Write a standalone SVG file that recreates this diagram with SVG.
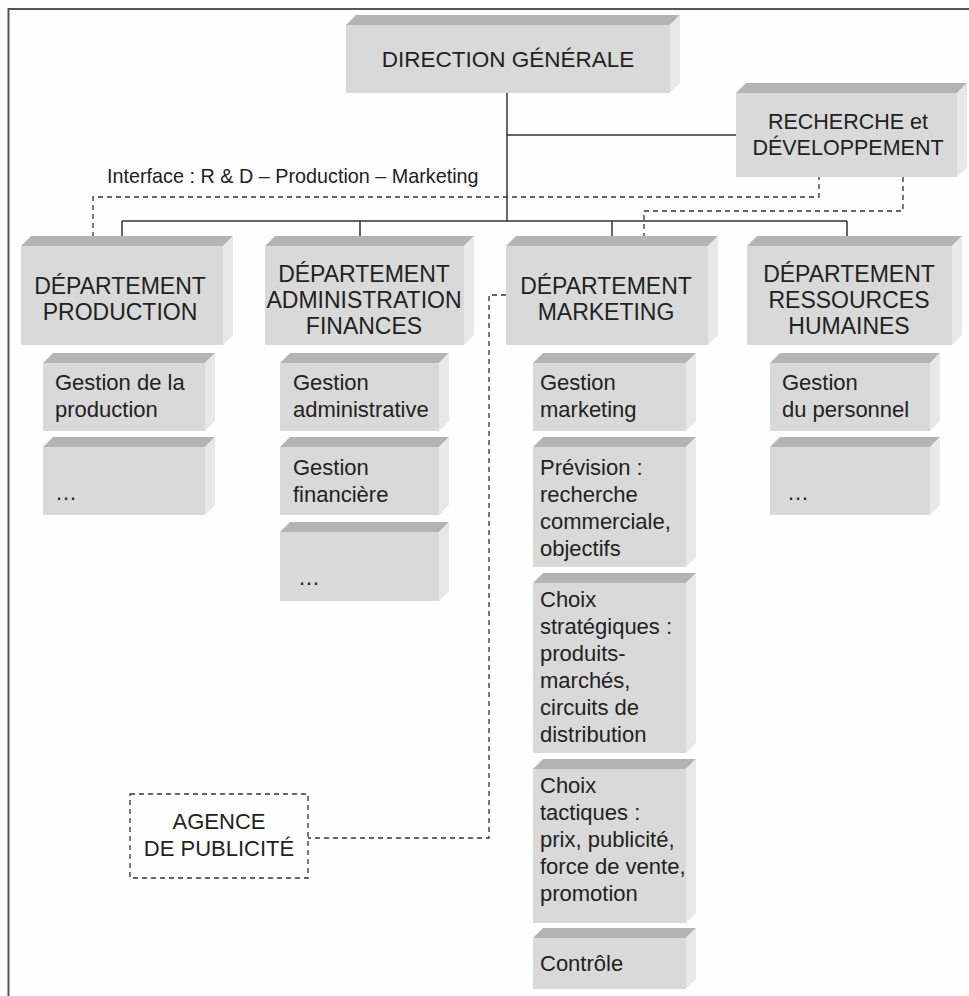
<svg xmlns="http://www.w3.org/2000/svg" width="969" height="996" viewBox="0 0 969 996">
<style>
.front{fill:#d9d9d9}
.top{fill:#b4b4b4}
.side{fill:#e8e8e8}
text{font-family:"Liberation Sans",Arial,Helvetica,sans-serif;fill:#222}
.big{font-size:23px;text-anchor:middle}
.sub{font-size:22px}
.solid{stroke:#333;stroke-width:1.5;fill:none}
.dash{stroke:#333;stroke-width:1.3;stroke-dasharray:5 4;fill:none}
.frame{stroke:#555;stroke-width:2;fill:none}
</style>
<rect width="969" height="996" fill="#fefefe"/>
<path class="frame" d="M8.5,996 V9 H969"/>

<g id="connectors">
<path class="solid" d="M507,93 V221"/>
<path class="solid" d="M507,135 H736"/>
<path class="solid" d="M122,221 H847"/>
<path class="solid" d="M122,221 V246 M360,221 V246 M612,221 V246 M847,221 V246"/>
<path class="dash" d="M93,246 V197 H819 V177"/>
<path class="dash" d="M903,177 V211 H644 V246"/>
<path class="dash" d="M506,295 H489 V838 H308"/>
</g>

<g id="interface-label">
<text x="107" y="183" style="font-size:19.8px">Interface : R &amp; D – Production – Marketing</text>
</g>

<g id="direction">
<polygon class="top" points="346,25 356,15 680,15 670,25"/>
<polygon class="side" points="670,25 680,15 680,83 670,93"/>
<rect class="front" x="346" y="25" width="324" height="68"/>
<text x="508" y="67" style="font-size:22.5px;text-anchor:middle">DIRECTION GÉNÉRALE</text>
</g>

<g id="rd">
<polygon class="top" points="736,93 746,83 967,83 957,93"/>
<polygon class="side" points="957,93 967,83 967,167 957,177"/>
<rect class="front" x="736" y="93" width="221" height="84"/>
<text class="big" style="font-size:21.5px"><tspan x="848" y="129">RECHERCHE et</tspan><tspan x="848" y="155">DÉVELOPPEMENT</tspan></text>
</g>

<g id="dep-production">
<polygon class="top" points="21,246 31,236 233,236 223,246"/>
<polygon class="side" points="223,246 233,236 233,335 223,345"/>
<rect class="front" x="21" y="246" width="202" height="99"/>
<text class="big"><tspan x="120" y="294">DÉPARTEMENT</tspan><tspan x="120" y="320">PRODUCTION</tspan></text>
</g>

<g id="dep-admin">
<polygon class="top" points="265,246 275,236 474,236 464,246"/>
<polygon class="side" points="464,246 474,236 474,335 464,345"/>
<rect class="front" x="265" y="246" width="199" height="99"/>
<text class="big"><tspan x="364" y="282">DÉPARTEMENT</tspan><tspan x="364" y="308">ADMINISTRATION</tspan><tspan x="364" y="334">FINANCES</tspan></text>
</g>

<g id="dep-marketing">
<polygon class="top" points="506,246 516,236 718,236 708,246"/>
<polygon class="side" points="708,246 718,236 718,335 708,345"/>
<rect class="front" x="506" y="246" width="202" height="99"/>
<text class="big"><tspan x="606" y="294">DÉPARTEMENT</tspan><tspan x="606" y="320">MARKETING</tspan></text>
</g>

<g id="dep-rh">
<polygon class="top" points="747,246 757,236 962,236 952,246"/>
<polygon class="side" points="952,246 962,236 962,335 952,345"/>
<rect class="front" x="747" y="246" width="205" height="99"/>
<text class="big"><tspan x="849" y="282">DÉPARTEMENT</tspan><tspan x="849" y="308">RESSOURCES</tspan><tspan x="849" y="334">HUMAINES</tspan></text>
</g>

<!-- Production subs -->
<g id="prod-1">
<polygon class="top" points="43,363 53,353 215,353 205,363"/>
<polygon class="side" points="205,363 215,353 215,421 205,431"/>
<rect class="front" x="43" y="363" width="162" height="68"/>
<text class="sub" x="55" y="390">Gestion de la</text>
<text class="sub" x="55" y="417">production</text>
</g>
<g id="prod-2">
<polygon class="top" points="43,447 53,437 215,437 205,447"/>
<polygon class="side" points="205,447 215,437 215,505 205,515"/>
<rect class="front" x="43" y="447" width="162" height="68"/>
<text class="sub" x="55" y="500">…</text>
</g>

<!-- Admin subs -->
<g id="admin-1">
<polygon class="top" points="280,363 290,353 449,353 439,363"/>
<polygon class="side" points="439,363 449,353 449,421 439,431"/>
<rect class="front" x="280" y="363" width="159" height="68"/>
<text class="sub" x="293" y="390">Gestion</text>
<text class="sub" x="293" y="417">administrative</text>
</g>
<g id="admin-2">
<polygon class="top" points="280,447 290,437 449,437 439,447"/>
<polygon class="side" points="439,447 449,437 449,505 439,515"/>
<rect class="front" x="280" y="447" width="159" height="68"/>
<text class="sub" x="293" y="475">Gestion</text>
<text class="sub" x="293" y="502">financière</text>
</g>
<g id="admin-3">
<polygon class="top" points="280,532 290,522 449,522 439,532"/>
<polygon class="side" points="439,532 449,522 449,591 439,601"/>
<rect class="front" x="280" y="532" width="159" height="69"/>
<text class="sub" x="298" y="585">…</text>
</g>

<!-- Marketing subs -->
<g id="mkt-1">
<polygon class="top" points="533,363 543,353 696,353 686,363"/>
<polygon class="side" points="686,363 696,353 696,421 686,431"/>
<rect class="front" x="533" y="363" width="153" height="68"/>
<text class="sub" x="540" y="390">Gestion</text>
<text class="sub" x="540" y="417">marketing</text>
</g>
<g id="mkt-2">
<polygon class="top" points="533,447 543,437 696,437 686,447"/>
<polygon class="side" points="686,447 696,437 696,557 686,567"/>
<rect class="front" x="533" y="447" width="153" height="120"/>
<text class="sub" x="540" y="475">Prévision :</text>
<text class="sub" x="540" y="502">recherche</text>
<text class="sub" x="540" y="529">commerciale,</text>
<text class="sub" x="540" y="556">objectifs</text>
</g>
<g id="mkt-3">
<polygon class="top" points="533,583 543,573 696,573 686,583"/>
<polygon class="side" points="686,583 696,573 696,743 686,753"/>
<rect class="front" x="533" y="583" width="153" height="170"/>
<text class="sub" x="540" y="607">Choix</text>
<text class="sub" x="540" y="634">stratégiques :</text>
<text class="sub" x="540" y="661">produits-</text>
<text class="sub" x="540" y="688">marchés,</text>
<text class="sub" x="540" y="715">circuits de</text>
<text class="sub" x="540" y="742">distribution</text>
</g>
<g id="mkt-4">
<polygon class="top" points="533,769 543,759 696,759 686,769"/>
<polygon class="side" points="686,769 696,759 696,913 686,923"/>
<rect class="front" x="533" y="769" width="153" height="154"/>
<text class="sub" x="540" y="793">Choix</text>
<text class="sub" x="540" y="820">tactiques :</text>
<text class="sub" x="540" y="847">prix, publicité,</text>
<text class="sub" x="540" y="874">force de vente,</text>
<text class="sub" x="540" y="901">promotion</text>
</g>
<g id="mkt-5">
<polygon class="top" points="533,938 543,928 696,928 686,938"/>
<polygon class="side" points="686,938 696,928 696,979 686,989"/>
<rect class="front" x="533" y="938" width="153" height="51"/>
<text class="sub" x="540" y="971">Contrôle</text>
</g>

<!-- RH subs -->
<g id="rh-1">
<polygon class="top" points="770,363 780,353 940,353 930,363"/>
<polygon class="side" points="930,363 940,353 940,421 930,431"/>
<rect class="front" x="770" y="363" width="160" height="68"/>
<text class="sub" x="782" y="390">Gestion</text>
<text class="sub" x="782" y="417">du personnel</text>
</g>
<g id="rh-2">
<polygon class="top" points="770,447 780,437 940,437 930,447"/>
<polygon class="side" points="930,447 940,437 940,505 930,515"/>
<rect class="front" x="770" y="447" width="160" height="68"/>
<text class="sub" x="787" y="500">…</text>
</g>

<g id="agence">
<rect class="dash" x="130" y="794" width="178" height="84"/>
<text x="219" y="829" style="font-size:22px;text-anchor:middle">AGENCE</text>
<text x="219" y="856" style="font-size:22px;text-anchor:middle">DE PUBLICITÉ</text>
</g>
</svg>
